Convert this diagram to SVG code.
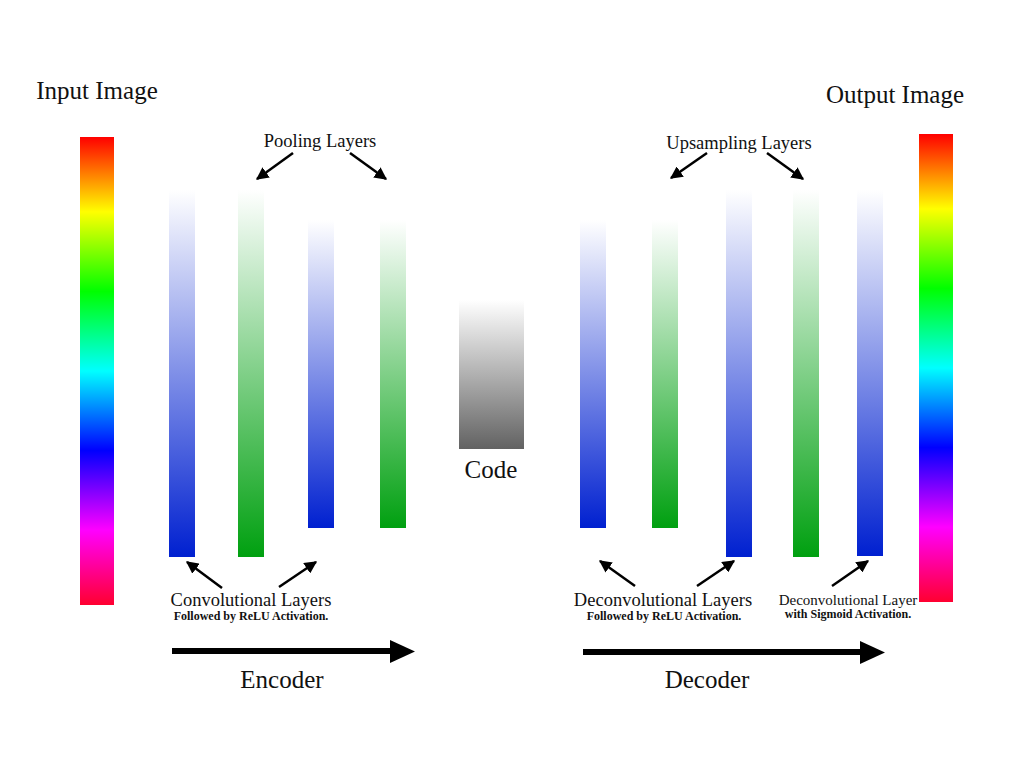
<svg xmlns="http://www.w3.org/2000/svg" width="1024" height="768" viewBox="0 0 1024 768">
<defs>
<linearGradient id="rainbow" x1="0" y1="0" x2="0" y2="1">
<stop offset="0" stop-color="#ff0000"/>
<stop offset="0.08" stop-color="#ff8000"/>
<stop offset="0.16" stop-color="#ffff00"/>
<stop offset="0.33" stop-color="#00ff00"/>
<stop offset="0.5" stop-color="#00ffff"/>
<stop offset="0.67" stop-color="#0000ff"/>
<stop offset="0.84" stop-color="#ff00ff"/>
<stop offset="1" stop-color="#ff0030"/>
</linearGradient>
<linearGradient id="blue" x1="0" y1="0" x2="0" y2="1">
<stop offset="0" stop-color="#ffffff"/>
<stop offset="1" stop-color="#0020d0"/>
</linearGradient>
<linearGradient id="green" x1="0" y1="0" x2="0" y2="1">
<stop offset="0" stop-color="#ffffff"/>
<stop offset="1" stop-color="#00a010"/>
</linearGradient>
<linearGradient id="gray" x1="0" y1="0" x2="0" y2="1">
<stop offset="0" stop-color="#ffffff"/>
<stop offset="1" stop-color="#626262"/>
</linearGradient>
<marker id="ah" viewBox="0 0 10 10" refX="9" refY="5" markerWidth="5" markerHeight="5" orient="auto" markerUnits="strokeWidth">
<path d="M0,0 L10,5 L0,10 z" fill="#000"/>
</marker>
<style>
text{font-family:"Liberation Serif","DejaVu Serif",serif;fill:#111}
.big{font-size:25px}
.mid{font-size:18.5px}
.sm{font-size:12px;font-weight:bold}
.lbl{font-size:15px}
.ptr{stroke:#000;stroke-width:2.5;fill:none;marker-end:url(#ah)}
.main{stroke:#000;stroke-width:6;fill:none}
</style>
</defs>
<rect width="1024" height="768" fill="#fff"/>

<g id="input">
<rect x="80" y="137" width="34" height="468" fill="url(#rainbow)"/>
<text class="big" x="97" y="99" text-anchor="middle">Input Image</text>
</g>
<g id="output">
<rect x="919" y="134" width="34" height="468" fill="url(#rainbow)"/>
<text class="big" x="895" y="103" text-anchor="middle">Output Image</text>
</g>

<g id="enc1"><rect x="169" y="190" width="26" height="367" fill="url(#blue)"/></g>
<g id="enc2"><rect x="238" y="190" width="26" height="367" fill="url(#green)"/></g>
<g id="enc3"><rect x="308" y="220" width="26" height="308" fill="url(#blue)"/></g>
<g id="enc4"><rect x="380" y="220" width="26" height="308" fill="url(#green)"/></g>

<g id="code">
<rect x="459" y="300" width="65" height="149" fill="url(#gray)"/>
<text class="big" x="491" y="478" text-anchor="middle">Code</text>
</g>

<g id="dec1"><rect x="580" y="220" width="26" height="308" fill="url(#blue)"/></g>
<g id="dec2"><rect x="652" y="220" width="26" height="308" fill="url(#green)"/></g>
<g id="dec3"><rect x="726" y="190" width="26" height="367" fill="url(#blue)"/></g>
<g id="dec4"><rect x="793" y="190" width="26" height="367" fill="url(#green)"/></g>
<g id="dec5"><rect x="857" y="190" width="26" height="366" fill="url(#blue)"/></g>

<g id="labels">
<text class="mid" x="320" y="147" text-anchor="middle">Pooling Layers</text>
<text class="mid" x="739" y="149" text-anchor="middle">Upsampling Layers</text>
<text class="mid" x="251" y="606" text-anchor="middle">Convolutional Layers</text>
<text class="sm" x="251" y="620" text-anchor="middle">Followed by ReLU Activation.</text>
<text class="mid" x="663" y="606" text-anchor="middle">Deconvolutional Layers</text>
<text class="sm" x="664" y="620" text-anchor="middle">Followed by ReLU Activation.</text>
<text class="lbl" x="848" y="605" text-anchor="middle">Deconvolutional Layer</text>
<text class="sm" x="848" y="618" text-anchor="middle">with Sigmoid Activation.</text>
<text class="big" x="282" y="688" text-anchor="middle">Encoder</text>
<text class="big" x="707" y="688" text-anchor="middle">Decoder</text>
</g>

<g id="connectors">
<line class="ptr" x1="293" y1="153" x2="257" y2="179"/>
<line class="ptr" x1="350" y1="153" x2="386" y2="179"/>
<line class="ptr" x1="707" y1="153" x2="671" y2="178"/>
<line class="ptr" x1="767" y1="153" x2="803" y2="179"/>
<line class="ptr" x1="222" y1="588" x2="187" y2="562"/>
<line class="ptr" x1="279" y1="587" x2="316" y2="562"/>
<line class="ptr" x1="635" y1="586" x2="600" y2="561"/>
<line class="ptr" x1="697" y1="586" x2="734" y2="561"/>
<line class="ptr" x1="832" y1="586" x2="868" y2="561"/>
<line class="main" x1="172" y1="651" x2="392" y2="651"/>
<polygon points="390,640 415,651.5 390,663" fill="#000"/>
<line class="main" x1="583" y1="652" x2="862" y2="652"/>
<polygon points="860,641 885,652.5 860,664" fill="#000"/>
</g>
</svg>
